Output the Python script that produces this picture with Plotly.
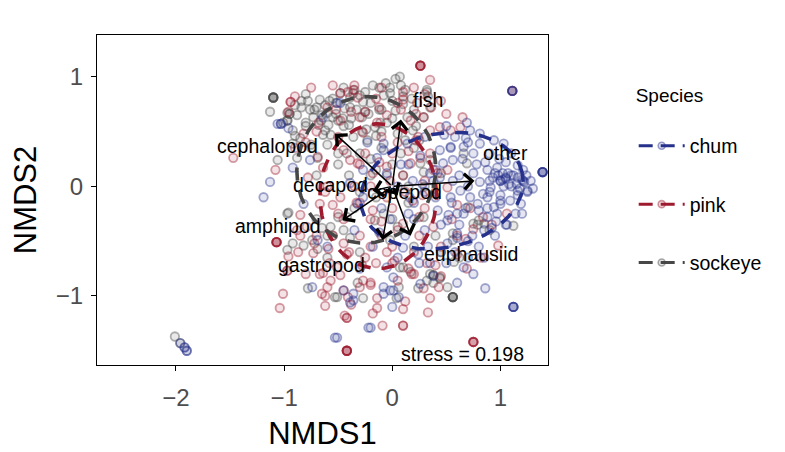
import numpy as np
import plotly.graph_objects as go

# ---------------- data ----------------
species = ["chum", "pink", "sockeye"]

chum_x = [0.69,0.81,0.72,0.94,1.03,0.81,0.66,0.54,0.44,0.56,0.47,0.88,0.97,1.0,1.0,1.02,1.05,1.05,1.21,1.2,1.22,1.25,1.16,0.91,0.81,0.84,1.28,1.09,1.0,0.94,1.19,0.88,0.63,0.54,0.6,0.51,0.42,0.97,1.16,1.21,1.16,0.75,0.72,0.79,0.44,0.19,0.6,
          1.16,1.25,1.0,0.88,0.66,0.52,0.6,0.51,0.66,0.75,0.86,0.26,-0.02,0.06,-0.2,-0.53,-0.08,-0.36,0.05,-0.05,0.10,
          -1.06,-0.96,-0.64,-0.48,-0.23,-0.08,-0.92,-1.13,-0.76,-0.51,-0.08,-0.14,0.14,0.26,0.54,-0.27,-0.39,
          -1.19,-0.82,-0.69,-0.74,-0.39,-0.36,-0.22,-0.51,-0.08,0.01,-0.27,-0.32,0.01,
          -1.96,-1.92,-1.92,-1.9,-1.9,
          1.39,1.39,1.39,1.39,1.39,1.11,1.11,1.11,1.12,1.12,1.12,1.12,-1.03,-1.03,
          0.35,0.3,0.4,0.7,0.9,1.1,0.3,0.2,0.45,0.8,0.95,1.05,0.7,0.35,0.2,0.05,-0.1,0.15,0.65,0.75,0.9,1.1,1.3,1.05,0.3,0.5,0.62,
          0.98,1.02,1.08,1.12,1.18,1.24,0.93,0.86,0.78,0.68,0.58,0.48,0.38,1.14,1.06,0.96,0.85,0.74,0.62,0.55,0.45,0.33,0.24,0.12,-0.02,
          0.88,0.99,1.07,0.7,0.58,-0.3,-0.6,-0.45,0.0,0.15,
          1.03,1.1,0.95,1.15,1.0,0.9,0.8,0.68,0.56,0.4,0.28,0.16,-0.05,-0.18,-0.35,0.5,0.7,0.85,1.2,0.38,0.92,0.6,0.25,-0.12,0.08]
chum_y = [0.58,0.48,0.51,0.42,0.39,0.39,0.36,0.35,0.33,0.24,0.21,0.15,0.17,0.05,0.05,0.06,0.07,0.08,0.05,0.06,0.04,-0.04,-0.04,-0.01,0.04,-0.07,0.05,-0.13,-0.13,-0.19,-0.16,-0.28,-0.04,-0.1,-0.25,-0.31,-0.22,-0.25,0.08,0.15,0.19,0.12,-0.1,-0.16,0.08,0.05,-0.43,
          -0.08,-0.05,-0.16,-0.1,-0.25,-0.26,-0.47,-0.52,-0.74,-0.8,-0.93,-0.89,-0.95,-1.01,-1.29,-1.38,-0.98,-1.04,-0.65,-0.74,-0.56,
          0.57,0.53,0.63,0.76,0.4,0.39,0.17,0.04,0.24,0.76,0.33,0.26,0.39,0.28,0.36,0.15,0.03,
          -0.1,-0.16,-0.49,-0.92,-1.06,-0.98,-1.29,-1.38,-0.92,-0.95,-0.1,-0.16,-0.83,
          -1.43,-1.47,-1.47,-1.5,-1.5,
          0.13,0.13,0.13,0.13,0.13,0.87,0.87,0.87,-1.1,-1.1,-1.1,-1.1,0.57,0.57,
          0.12,-0.05,-0.1,0.0,0.3,0.3,-0.4,-0.3,-0.6,-0.55,-0.45,-0.35,-0.65,-0.7,-0.15,0.0,-0.2,0.2,0.25,0.3,0.05,0.0,-0.02,0.22,0.45,0.55,0.1,
          0.1,0.12,0.02,0.1,-0.02,0.1,0.08,0.22,0.2,0.44,0.45,0.47,0.05,-0.25,-0.35,-0.32,-0.4,-0.45,-0.35,-0.15,-0.35,-0.55,-0.62,-0.45,-0.3,
          -0.2,0.25,0.12,0.4,-0.6,-0.75,-0.55,-0.95,-1.1,-0.25,
          0.0,0.1,0.12,0.02,-0.08,-0.05,-0.22,-0.2,0.05,0.15,0.02,-0.1,0.12,-0.55,-0.4,-0.7,-0.5,-0.65,-0.25,-0.82,-0.38,-0.88,-0.7,-0.42,0.2]

pink_x = [-0.44,-0.18,-0.09,0.1,0.1,-0.62,-0.45,-0.3,-0.14,0.35,0.29,0.43,0.69,0.98,0.75,0.05,-0.48,-0.57,-0.64,
          -1.01,-1.04,-0.97,-0.97,-0.6,-0.41,-0.42,-0.42,-0.51,-0.67,-0.27,-0.14,-0.85,-0.79,-0.73,-0.59,-0.87,-0.55,-0.67,-0.96,
          -1.47,-1.08,-0.94,-0.94,-0.96,
          -0.48,-0.41,-0.32,0.05,-0.05,-0.27,-0.39,-0.69,-0.64,
          -0.36,0.35,0.1,0.23,0.44,0.35,0.24,-0.14,-0.3,-0.48,0.17,0.26,0.63,-0.02,-0.18,-0.32,-0.45,0.54,
          0.17,0.29,0.51,0.51,0.6,0.84,1.06,0.19,0.1,0.38,0.65,
          0.26,0.26,0.26,0.26,0.26,-1.07,-1.07,-1.07,-1.07,-1.07,-0.42,-0.42,-0.42,-0.42,-0.42,0.75,0.75,0.75,0.75,1.11,1.11,
          -0.2,-0.1,0.0,0.2,0.3,-0.3,-0.45,-0.35,-0.2,0.1,0.0,-0.1,0.3,0.4,-0.6,-0.5,-0.7,-0.8,0.0,0.15,-0.25,0.45,0.6,-0.8,-0.15,0.2,0.45,-0.6,0.35,-0.05,0.25,-0.4,-0.55,
          -0.25,-0.12,0.08,0.22,0.36,-0.38,-0.52,-0.68,-0.82,-0.9,-0.78,-0.62,-0.48,-0.33,-0.18,-0.05,0.12,0.28,0.42,0.55,0.68,0.82,0.92,
          -0.15,0.02,0.18,0.32,-0.28,-0.42,-0.58,-0.72,-0.88,-0.3,-0.12,0.05,0.22,-0.2,0.12,0.45,-0.65,-0.38,
          -0.9,-0.75,-0.55,-0.35,-0.1,0.1,0.3,0.5,-0.25,-0.05,0.15,0.38,-0.5,-0.3,-0.1,0.05,0.25,-0.7,-0.45,-0.2,0.0,0.2,0.4,0.6,0.72,-0.85,-0.62,-0.2,0.1,0.33]
pink_y = [-1.18,-1.16,-1.27,-1.27,-1.27,-1.09,-0.95,-0.92,-1.02,-1.02,-0.93,-0.92,-0.75,-0.54,-0.39,-0.86,-0.81,-0.86,-0.79,
          -0.98,-1.11,-0.77,-0.77,-0.92,-1.01,-1.2,-1.2,-0.74,-0.8,-0.86,-1.11,-0.26,-0.37,-0.61,-0.57,-0.6,-0.17,-0.16,-0.64,
          0.26,0.15,0.77,0.77,0.68,
          0.85,0.86,0.81,0.76,0.65,0.49,0.24,0.27,0.17,
          0.88,0.97,0.79,0.76,0.54,0.51,0.45,0.58,0.63,0.6,0.21,0.26,0.54,0.05,0.12,0.21,0.33,0.51,
          0.6,0.63,0.15,-0.01,-0.17,-0.28,-0.25,-0.13,-0.34,-0.37,0.63,
          1.10,1.10,1.10,1.10,1.10,-0.51,-0.51,-0.51,-0.51,-0.51,-1.50,-1.50,-1.50,-1.50,-1.50,-1.42,-1.42,-1.42,-1.42,0.87,0.87,
          -0.3,-0.45,-0.55,-0.6,-0.2,-0.45,-0.3,0.0,0.0,0.1,0.3,0.45,0.05,-0.05,0.0,0.45,0.5,0.4,-0.2,-0.75,-0.65,-0.55,-0.62,-0.8,0.8,0.9,0.78,0.72,0.3,-0.6,-0.45,-0.6,-0.45,
          0.68,0.72,0.7,0.66,0.72,0.68,0.7,0.58,0.48,0.35,0.08,-0.05,-0.1,-0.15,-0.22,-0.1,-0.05,-0.08,0.12,-0.3,-0.48,-0.65,-0.35,
          -0.7,-0.68,-0.8,-0.7,-0.72,-0.62,-0.7,-0.52,-0.4,0.2,0.22,0.4,0.42,-0.88,-1.05,-0.82,-0.98,-1.08,
          0.82,0.9,0.92,0.92,0.9,0.86,0.84,0.66,0.3,0.18,0.32,0.15,-0.25,-0.15,-0.32,-0.4,-0.28,-0.45,-0.52,-0.55,-0.7,-0.8,-0.72,-0.45,-0.2,-0.45,-1.0,-0.9,-1.12,-1.15]

sockeye_x = [-1.13,-0.84,-0.78,-0.67,-1.06,-0.88,-0.92,-0.69,
             -1.10,-1.10,-1.10,-1.10,-1.10,
             -0.18,-0.06,0.03,-0.39,-0.30,-0.44,-0.28,-0.2,-0.08,-0.02,-0.59,-0.55,-0.65,-0.73,-0.88,-0.97,-0.64,-0.57,-1.01,-0.16,-0.05,-0.23,-0.36,0.03,0.05,-0.92,
             -0.95,-0.95,-0.97,-0.97,
             0.07,0.12,-0.27,-0.36,-0.48,-0.55,-0.39,-0.25,-0.11,0.32,0.32,0.33,0.35,0.29,-0.6,-0.62,
             0.66,0.69,0.26,0.29,0.35,0.70,0.80,1.12,0.29,0.75,0.19,0.14,
             0.10,0.17,0.35,0.44,0.51,0.38,0.56,0.56,0.06,0.56,0.56,0.56,0.56,0.56,0.32,
             -0.96,-0.92,-0.82,-0.74,-0.69,-0.32,-0.27,-0.53,-0.5,-0.42,-0.57,-0.39,0.05,-0.02,-0.08,-0.16,
             -2.01,-1.96,-0.97,-0.97,-0.78,
             0.79,0.85,0.57,0.44,0.24,0.04,-0.51,0.07,0.38,0.38,
             0.0,0.1,-0.2,-0.3,0.2,-0.1,0.3,-0.4,0.15,-0.15,0.4,-0.5,-0.7,-0.8,-0.45,-0.1,0.1,-0.3,-0.6,0.2,-0.7,
             -0.84,-0.76,-0.7,-0.62,-0.52,-0.46,-0.33,-0.22,-0.12,0.0,0.1,0.2,-0.8,-0.68,-0.5,-0.4,-0.15,0.0,0.12,-0.9,-0.75,-0.6,-0.42,-0.28,
             -0.05,0.08,0.22,-0.3,-0.15,0.15,-0.55,-0.65,0.45,0.62,0.9,
             -0.9,-0.8,-0.72,-0.58,-0.45,-0.35,-0.25,-0.12,-0.02,0.08,0.18,-0.66,-0.52,-0.38,-0.24,-0.1,-0.85,-0.75,-0.5,-0.2,0.25,0.45,-0.35,-0.45,-0.6,0.0]
sockeye_y = [0.68,0.78,0.78,0.79,0.24,0.26,0.51,0.26,
             0.81,0.81,0.81,0.81,0.81,
             0.92,0.94,0.98,0.81,0.83,0.71,0.63,0.76,0.83,0.85,0.56,0.63,0.65,0.63,0.65,0.67,0.47,0.47,0.58,0.54,0.58,0.42,0.45,0.69,0.48,0.39,
             0.66,0.66,0.6,0.6,
             1.0,0.88,0.77,0.85,0.85,0.8,0.72,0.68,0.58,0.88,0.86,0.82,0.72,0.63,0.67,0.51,
             0.30,0.21,0.21,0.13,0.24,-0.19,-0.31,-0.36,-0.28,-0.34,0.51,0.63,
             -0.74,-0.78,-0.80,-0.83,-0.92,-0.88,-0.49,-0.43,-0.92,-1.01,-1.01,-1.01,-1.01,-1.01,-0.86,
             -0.24,-0.52,-0.54,-0.49,-0.57,-0.88,-1.02,-1.01,-0.28,-0.28,-0.37,-0.47,-0.37,-0.49,-0.25,-0.31,
             -1.37,-1.43,-0.25,-0.58,-0.93,
             -0.35,-0.34,-0.69,-0.84,-0.93,-1.02,-1.01,-0.74,-0.81,-0.81,
             0.2,0.1,0.1,0.3,0.35,0.35,0.0,0.1,-0.15,-0.1,-0.45,0.2,0.1,0.55,0.55,0.7,0.75,-0.6,-0.65,-0.55,-0.3,
             0.72,0.7,0.72,0.74,0.76,0.62,0.7,0.66,0.7,0.78,0.82,0.7,0.58,0.56,0.6,0.56,0.46,0.62,0.42,0.46,0.38,0.38,0.3,0.5,
             0.1,0.3,0.55,-0.05,0.15,0.0,-0.45,-0.38,-0.6,-0.65,-0.4,
             0.74,0.84,0.7,0.78,0.9,0.88,0.86,0.9,0.9,0.92,0.8,0.6,0.66,0.62,0.52,0.5,0.44,0.35,0.3,0.25,0.42,0.12,-0.2,-0.4,-0.45,-0.3]

# 95% ellipses per species: centre, semi-axes, rotation (deg)
ell_cx = [0.46, -0.13, -0.24]
ell_cy = [-0.04, -0.09, 0.15]
ell_a = [0.76, 0.54, 0.64]
ell_b = [0.52, 0.66, 0.67]
ell_ang = [12, 0, -15]

# envfit vectors
vec_names = ["fish", "cephalopod", "other", "decapod", "copepod", "amphipod", "gastropod", "euphausiid"]
vec_x = [0.08, -0.53, 0.76, -0.18, 0.05, -0.46, -0.09, 0.17]
vec_y = [0.61, 0.48, 0.05, -0.04, -0.08, -0.31, -0.49, -0.45]
lab_x = [0.33, -1.15, 1.05, -0.57, 0.11, -1.06, -0.65, 0.73]
lab_y = [0.79, 0.37, 0.30, 0.01, -0.05, -0.36, -0.72, -0.62]

stress_text = "stress = 0.198"
stress_x, stress_y = 0.65, -1.53

x_ticks = [-2, -1, 0, 1]
y_ticks = [-1, 0, 1]

# ---------------- styles ----------------
line_cols = {"chum": "#26318C", "pink": "#9E1A2E", "sockeye": "#474747"}
pt_rgb = {"chum": (38, 49, 140), "pink": (158, 26, 46), "sockeye": (71, 71, 71)}
FONT = "Liberation Sans, Arial, Helvetica, sans-serif"

pts = {"chum": (chum_x, chum_y), "pink": (pink_x, pink_y), "sockeye": (sockeye_x, sockeye_y)}

fig = go.Figure()

for sp in ["sockeye", "pink", "chum"]:
    r, g, b = pt_rgb[sp]
    x, y = pts[sp]
    fig.add_trace(go.Scatter(
        x=x, y=y, mode="markers", showlegend=False, hoverinfo="skip",
        marker=dict(size=8.5, color=f"rgba({r},{g},{b},0.12)",
                    line=dict(color=f"rgba({r},{g},{b},0.42)", width=1.8))))

t = np.linspace(0, 2 * np.pi, 200)
for i, sp in enumerate(species):
    th = np.deg2rad(ell_ang[i])
    ex = ell_a[i] * np.cos(t)
    ey = ell_b[i] * np.sin(t)
    xx = ell_cx[i] + ex * np.cos(th) - ey * np.sin(th)
    yy = ell_cy[i] + ex * np.sin(th) + ey * np.cos(th)
    fig.add_trace(go.Scatter(x=xx, y=yy, mode="lines", showlegend=False, hoverinfo="skip",
                             line=dict(color=line_cols[sp], width=3.6, dash="13px,11px")))

# legend-only entries
for sp in species:
    r, g, b = pt_rgb[sp]
    fig.add_trace(go.Scatter(
        x=[None], y=[None], mode="lines+markers", name=sp, legendgroup=sp,
        line=dict(color=line_cols[sp], width=3, dash="14px,8px"),
        marker=dict(size=7, color=f"rgba({r},{g},{b},0.15)",
                    line=dict(color=f"rgba({r},{g},{b},0.45)", width=1.6))))

annots = []
for i, nm in enumerate(vec_names):
    annots.append(dict(x=vec_x[i], y=vec_y[i], ax=0, ay=0, xref="x", yref="y",
                       axref="x", ayref="y", showarrow=True, text="",
                       arrowhead=4, arrowsize=2.0, arrowwidth=1.5, arrowcolor="black"))
for i, nm in enumerate(vec_names):
    annots.append(dict(x=lab_x[i], y=lab_y[i], xref="x", yref="y", text=nm,
                       showarrow=False, font=dict(size=19.5, color="black", family=FONT)))
annots.append(dict(x=stress_x, y=stress_y, xref="x", yref="y", text=stress_text,
                   showarrow=False, font=dict(size=19.5, color="black", family=FONT)))

fig.update_layout(
    width=785, height=452,
    margin=dict(l=89, r=245, t=27, b=95),
    paper_bgcolor="white", plot_bgcolor="white",
    font=dict(family=FONT, color="black"),
    annotations=annots,
    legend=dict(x=1.19, y=0.872, xanchor="left", yanchor="top",
                title=dict(text="Species<br> ", font=dict(size=19)),
                font=dict(size=19.5), tracegroupgap=30, itemwidth=46,
                bgcolor="rgba(0,0,0,0)"),
    xaxis=dict(range=[-2.73, 1.44], tickvals=x_ticks, showgrid=False, zeroline=False,
               showline=True, linecolor="black", linewidth=1.2, mirror=True,
               ticks="outside", ticklen=5, tickcolor="black", tickwidth=1.2,
               ticklabelstandoff=6,
               tickfont=dict(size=24, color="#4d4d4d"),
               title=dict(text="NMDS1", font=dict(size=31), standoff=12)),
    yaxis=dict(range=[-1.63, 1.38], tickvals=y_ticks, showgrid=False, zeroline=False,
               showline=True, linecolor="black", linewidth=1.2, mirror=True,
               ticks="outside", ticklen=5, tickcolor="black", tickwidth=1.2,
               ticklabelstandoff=3,
               tickfont=dict(size=24, color="#4d4d4d"),
               title=dict(text="NMDS2", font=dict(size=31), standoff=10)),
)

fig.write_html("out.html")
